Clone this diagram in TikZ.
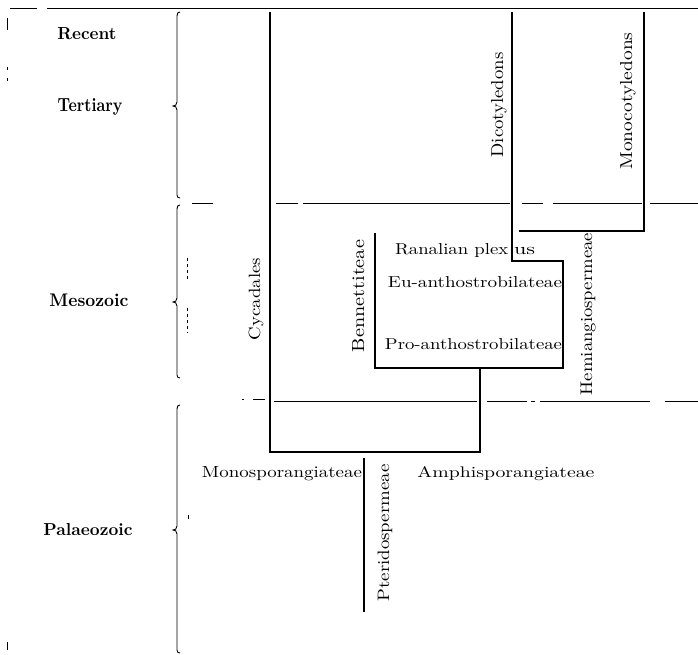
\documentclass[tikz,border=0pt]{standalone}
\usepackage{fontspec}
\usepackage{graphicx}
\newcommand\fw[3]{\resizebox{#1pt}{#2pt}{#3}}
\begin{document}
\begin{tikzpicture}[x=1pt,y=-1pt,
  lbl/.style={inner sep=0pt, anchor=base, font=\addfontfeatures{LetterSpace=6}},
  per/.style={inner sep=0pt, anchor=base, font=\bfseries},
  rot/.style={lbl, rotate=90},
  branch/.style={line width=1.2pt, line cap=butt},
  rule/.style={line width=0.8pt},
  tickmark/.style={line width=0.6pt, dash pattern=on 3pt off 3pt},
  br/.style={line width=0.9pt}]
\useasboundingbox (0,0) rectangle (698,655);
\fill[white] (0,0) rectangle (698,655);

% top rule and margin ticks
\draw[rule] (10,8) -- (37,8);
\draw[rule] (47,8) -- (698,8);
\draw[rule] (7,18) -- (7,30);
\draw[rule] (7,67) -- (7,70);
\draw[rule] (7,78) -- (7,81);
\draw[rule] (7,642) -- (7,650);

% Tertiary / Mesozoic boundary
\draw[rule] (192,203) -- (213,203);
\draw[rule] (276,203) -- (298,203);
\draw[rule] (303,203) -- (510,203);
\draw[rule] (522,203) -- (543,203);
\draw[rule] (553,203) -- (642,203);
\draw[rule] (650,203) -- (698,203);

% Mesozoic / Palaeozoic boundary
\draw[rule] (242,399) -- (244,399);
\draw[rule] (253,399) -- (265,399);
\draw[rule] (274,401) -- (477,401);
\draw[rule] (487,401) -- (527,401);
\draw[rule] (531,401) -- (535,401);
\draw[rule] (540,401) -- (650,401);
\draw[rule] (665,401) -- (698,401);

% small vertical marks
\draw[tickmark] (187,258) -- (187,280);
\draw[tickmark] (187,308) -- (187,333);
\draw[rule] (188,515) -- (188,519);

% braces
\draw[br] (180,12) .. controls (178,12) and (177,13) .. (177,16) -- (177,102)
  .. controls (177,105) and (175,106) .. (173,106)
  .. controls (175,106) and (177,107) .. (177,110) -- (177,195)
  .. controls (177,197) and (178,198) .. (180,198);
\draw[br] (180,205) .. controls (178,205) and (177,206) .. (177,209) -- (177,298)
  .. controls (177,301) and (175,302) .. (173,302)
  .. controls (175,302) and (177,303) .. (177,306) -- (177,375)
  .. controls (177,377) and (178,378) .. (180,378);
\draw[br] (180,405) .. controls (178,405) and (177,406) .. (177,409) -- (177,526)
  .. controls (177,529) and (175,530) .. (173,530)
  .. controls (175,530) and (177,531) .. (177,534) -- (177,650)
  .. controls (177,652) and (178,653) .. (180,653);

% period labels
\node[per] (recent) at (87,40) {\fw{59}{12}{Recent}};
\node[per] (tertiary) at (90,112) {\fw{65}{13}{Tertiary}};
\node[per] (mesozoic) at (89,306) {\fw{79}{12.5}{Mesozoic}};
\node[per] (palaeozoic) at (88,535) {\fw{89}{12}{Palaeozoic}};

% branch vertices
\coordinate (cyTop) at (270,12);
\coordinate (cyBot) at (270,452);
\coordinate (amBot) at (480,452);
\coordinate (amTop) at (480,369);
\coordinate (beTop) at (375,233);
\coordinate (beBot) at (375,368);
\coordinate (boxBR) at (563,368);
\coordinate (boxTR) at (563,261);
\coordinate (diBot) at (512,261);
\coordinate (diTop) at (512,12);
\coordinate (moTop) at (644,12);
\coordinate (moBot) at (644,231);
\coordinate (moEnd) at (519,231);
\coordinate (ptTop) at (364,458);
\coordinate (ptBot) at (364,612);

\draw[branch] (cyTop) -- (cyBot) -- (amBot) -- (amTop);
\draw[branch] (beTop) -- (beBot) -- (boxBR) -- (boxTR) -- (diBot) -- (diTop);
\draw[branch] (moTop) -- (moBot) -- (moEnd);
\draw[branch] (ptTop) -- (ptBot);

% group labels
\node[rot] (dicot) at (503,105) {\fw{105}{12}{Dicotyledons}};
\node[rot] (monocot) at (632,101) {\fw{137}{12}{Monocotyledons}};
\node[rot] (cycad) at (260,299) {\fw{82}{11.5}{Cycadales}};
\node[rot] (bennett) at (364,296) {\fw{112}{12}{Bennettiteae}};
\node[rot] (hemi) at (592,314) {\fw{162}{11.5}{Hemiangiospermeae}};
\node[rot] (pterido) at (389,533) {\fw{137}{11.5}{Pteridospermeae}};

\node[lbl, anchor=base west] (ranal) at (395,254)
  {\fw{113}{11}{Ranalian plex}\hspace{6pt}\fw{21}{7.2}{us}};
\node[lbl] (eu) at (475,287) {\fw{174}{11}{Eu-anthostrobilateae}};
\node[lbl] (pro) at (473.5,349) {\fw{177}{11}{Pro-anthostrobilateae}};
\node[lbl] (mono) at (282,477) {\fw{160}{11}{Monosporangiateae}};
\node[lbl] (amphi) at (506,477) {\fw{177}{11}{Amphisporangiateae}};
\end{tikzpicture}
\end{document}
